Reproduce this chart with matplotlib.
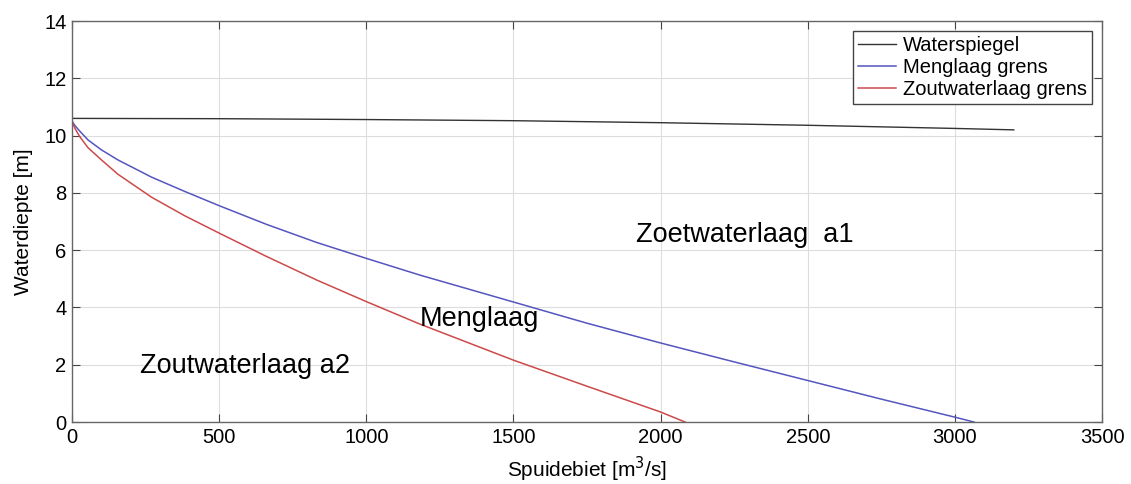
import numpy as np
import matplotlib.pyplot as plt

plt.rcParams['font.family'] = ['Liberation Sans', 'DejaVu Sans']

# Spuidebiet [m3/s] en bijbehorende diepten [m]
q_spiegel = [0, 500, 1000, 1500, 2000, 2500, 3000, 3200]
h_spiegel = [10.6, 10.59, 10.56, 10.52, 10.45, 10.36, 10.25, 10.2]

q_meng = [0, 10, 25, 54, 100, 156, 270, 383, 503, 661, 831, 1001, 1182,
          1500, 1750, 2000, 2250, 2500, 2750, 3000, 3065]
h_meng = [10.5, 10.35, 10.17, 9.85, 9.5, 9.15, 8.55, 8.05, 7.54, 6.9, 6.27, 5.71, 5.13,
          4.19, 3.45, 2.76, 2.1, 1.45, 0.8, 0.17, 0.0]

q_zout = [0, 10, 25, 54, 100, 156, 270, 383, 503, 661, 831, 1001, 1182,
          1500, 1750, 2000, 2083]
h_zout = [10.5, 10.25, 9.98, 9.58, 9.15, 8.65, 7.85, 7.2, 6.58, 5.78, 4.96, 4.2, 3.42,
          2.16, 1.25, 0.35, 0.0]

fig = plt.figure(figsize=(11.31, 4.84), dpi=100)
ax = fig.add_axes([0.0637, 0.128, 0.9107, 0.8286])

ax.plot(q_spiegel, h_spiegel, color='#333333', lw=1.0, label='Waterspiegel')
ax.plot(q_meng, h_meng, color='#5555c0', lw=1.1, label='Menglaag grens')
ax.plot(q_zout, h_zout, color='#cc4a4a', lw=1.1, label='Zoutwaterlaag grens')

ax.text(2287, 6.53, 'Zoetwaterlaag  a1', fontsize=19.5, ha='center', va='center')
ax.text(1386, 3.6, 'Menglaag', fontsize=19.5, ha='center', va='center')
ax.text(588, 1.96, 'Zoutwaterlaag a2', fontsize=19.5, ha='center', va='center')

ax.set_xlim(0, 3500)
ax.set_ylim(0, 14)
ax.set_xticks(np.arange(0, 3501, 500))
ax.set_yticks(np.arange(0, 15, 2))
ax.grid(True, color='#dddddd', lw=0.8)
ax.tick_params(direction='in', top=True, right=True, labelsize=14.5, length=6,
               color='#444444', pad=4)
for s in ax.spines.values():
    s.set_color('#666666')
    s.set_linewidth(1.0)

ax.set_xlabel(r'Spuidebiet [m$^3$/s]', fontsize=15, labelpad=6)
ax.set_ylabel('Waterdiepte [m]', fontsize=15, labelpad=8)

leg = ax.legend(loc='upper right', fontsize=14.5, handlelength=1.9, handletextpad=0.35,
                borderpad=0.25, labelspacing=0.15, fancybox=False, framealpha=1,
                borderaxespad=0.48)
leg.get_frame().set_edgecolor('#444444')
leg.get_frame().set_linewidth(1.0)

fig.savefig('out.png', dpi=100)
